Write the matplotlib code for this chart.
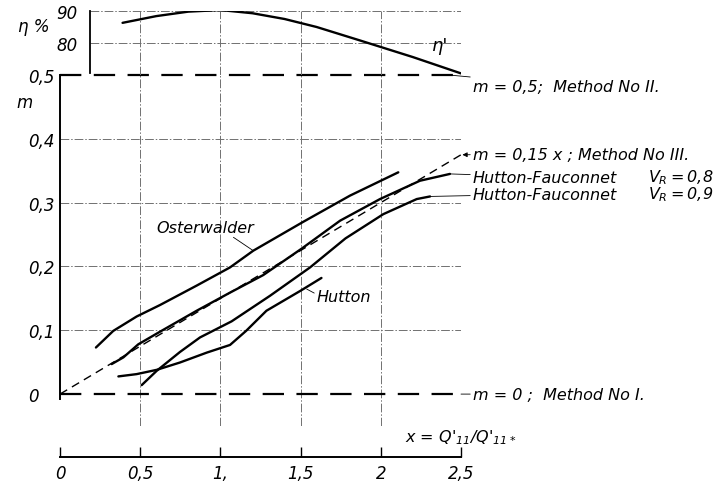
import matplotlib
matplotlib.use("Agg")
import matplotlib.pyplot as plt

# ---------------- data ----------------
eta_x = [0.39, 0.6, 0.8, 1.0, 1.2, 1.4, 1.6, 1.87, 2.2, 2.5]
eta_y = [86.3, 88.4, 89.8, 90.3, 89.3, 87.5, 85.0, 80.8, 75.6, 70.5]

osterwalder_x = [0.224, 0.332, 0.478, 0.623, 0.852, 1.06, 1.205, 1.517, 1.808, 2.109]
osterwalder_m = [0.073, 0.099, 0.1216, 0.1395, 0.170, 0.1985, 0.2247, 0.270, 0.311, 0.3475]

hf08_x = [0.322, 0.395, 0.488, 0.623, 0.852, 1.06, 1.267, 1.507, 1.746, 1.995, 2.244, 2.431]
hf08_m = [0.047, 0.0575, 0.078, 0.0977, 0.1306, 0.159, 0.1865, 0.228, 0.2717, 0.3056, 0.3343, 0.345]

hf09_x = [0.509, 0.603, 0.748, 0.873, 1.07, 1.309, 1.559, 1.78, 2.016, 2.224, 2.307]
hf09_m = [0.014, 0.0365, 0.066, 0.0888, 0.114, 0.154, 0.1985, 0.244, 0.282, 0.3056, 0.3097]

hutton_x = [0.364, 0.478, 0.603, 0.748, 0.915, 1.06, 1.16, 1.287, 1.5, 1.63]
hutton_m = [0.0277, 0.0313, 0.038, 0.0495, 0.065, 0.077, 0.099, 0.1306, 0.162, 0.182]

method3_slope = 0.15
method3_x = [0.0, 2.5]
method2_m = 0.5
method1_m = 0.0

x_ticks = [0, 0.5, 1.0, 1.5, 2.0, 2.5]
x_ticklabels = ["0", "0,5", "1,", "1,5", "2", "2,5"]
m_ticks = [0, 0.1, 0.2, 0.3, 0.4, 0.5]
m_ticklabels = ["0", "0,1", "0,2", "0,3", "0,4", "0,5"]
eta_ticks = [80, 90]
eta_ticklabels = ["80", "90"]

# ---------------- style ----------------
plt.rcParams['font.family'] = ['DejaVu Sans']
plt.rcParams['font.style'] = 'italic'
plt.rcParams['mathtext.fontset'] = 'custom'
plt.rcParams['mathtext.it'] = 'DejaVu Sans:italic'
plt.rcParams['mathtext.rm'] = 'DejaVu Sans:italic'
plt.rcParams['mathtext.default'] = 'it'

W, H = 714, 485
fig = plt.figure(figsize=(W / 100, H / 100), dpi=100)

def fx(px):
    return px / W

def fy(py):
    return (H - py) / H

X0, X1 = 60, 461
grid_kw = dict(color='#707070', lw=0.7, ls=(0, (9, 2, 1.5, 2)))
curve_kw = dict(color='black', lw=1.7, solid_capstyle='round')
method_kw = dict(colors='black', linewidths=1.6, linestyles=[(0, (9.6, 5.6))], zorder=6,
                 clip_on=False)
fs = 11.5

# main axes (m)
ax = fig.add_axes([fx(X0), fy(427), fx(X1) - fx(X0), fy(76) - fy(427)])
ax.set_xlim(0, 2.5)
ax.set_ylim(-0.05, 0.5)
for s in ['top', 'right', 'bottom']:
    ax.spines[s].set_visible(False)
ax.spines['left'].set_bounds(-0.008, 0.5)
ax.spines['left'].set_linewidth(1.4)
ax.set_xticks([])
ax.set_yticks(m_ticks)
ax.set_yticklabels(m_ticklabels, fontsize=12)
ax.tick_params(axis='y', length=0, pad=23)
for lab in ax.get_yticklabels():
    lab.set_horizontalalignment('left')
ax.patch.set_alpha(0)

for t in m_ticks[1:-1]:
    ax.axhline(t, **grid_kw)
for t in x_ticks[1:]:
    ax.axvline(t, **grid_kw)

# methods
ax.hlines([method2_m, method1_m], 0, 2.5, **method_kw)
ax.plot(method3_x, [method3_slope * v for v in method3_x], color='black', lw=1.0,
        ls=(0, (6, 4)), clip_on=False)

# curves
ax.plot(osterwalder_x, osterwalder_m, **curve_kw)
ax.plot(hf08_x, hf08_m, **curve_kw)
ax.plot(hf09_x, hf09_m, **curve_kw)
ax.plot(hutton_x, hutton_m, **curve_kw)

# labels
def dx(px):
    return (px - X0) / 160.4

def dm(py):
    return (395 - py) / 638.0

lx = dx(473)
leader = dict(arrowstyle='-', lw=0.6, color='black', shrinkA=0, shrinkB=0)
ax.annotate("m = 0,5;  Method No II.", xy=(dx(449), 0.5), xytext=(lx, dm(87)),
            fontsize=fs, va='center', ha='left', arrowprops=leader, annotation_clip=False)
ax.annotate("m = 0,15 x ; Method No III.", xy=(2.5, 0.375), xytext=(lx, dm(155)),
            fontsize=fs, va='center', ha='left', annotation_clip=False,
            arrowprops=dict(arrowstyle='-|>', lw=0.6, color='black', shrinkA=0, shrinkB=1,
                            mutation_scale=7))
ax.annotate("Hutton-Fauconnet", xy=(hf08_x[-1], hf08_m[-1]), xytext=(lx, dm(178)),
            fontsize=fs, va='center', ha='left', arrowprops=leader, annotation_clip=False)
ax.text(dx(648), dm(178), r"$V_R = 0{,}8$", fontsize=fs, va='center', ha='left', clip_on=False)
ax.annotate("Hutton-Fauconnet", xy=(hf09_x[-1], hf09_m[-1]), xytext=(lx, dm(195)),
            fontsize=fs, va='center', ha='left', arrowprops=leader, annotation_clip=False)
ax.text(dx(648), dm(195), r"$V_R = 0{,}9$", fontsize=fs, va='center', ha='left', clip_on=False)
ax.annotate("m = 0 ;  Method No I.", xy=(2.5, 0.0), xytext=(lx, dm(395)),
            fontsize=fs, va='center', ha='left', arrowprops=leader, annotation_clip=False)

ax.annotate("Osterwalder", xy=(1.205, 0.2247), xytext=(dx(156), dm(228)),
            fontsize=fs, va='center', ha='left', annotation_clip=False,
            arrowprops=dict(arrowstyle='-', lw=0.6, color='black', shrinkA=0, shrinkB=0,
                            relpos=(0.75, 0)))
ax.annotate("Hutton", xy=(1.538, 0.1646), xytext=(dx(317), dm(297)),
            fontsize=fs, va='center', ha='left', annotation_clip=False,
            arrowprops=dict(arrowstyle='-', lw=0.6, color='black', shrinkA=0, shrinkB=0,
                            relpos=(0, 0.6)))

ax.text(dx(16), dm(103), "m", fontsize=12, ha='left', va='center', clip_on=False)
ax.text(dx(405), dm(438), "x = Q'$_{11}$/Q'$_{11*}$", fontsize=11.5, ha='left', va='center',
        clip_on=False)

# eta axes
axe = fig.add_axes([fx(X0), fy(76), fx(X1) - fx(X0), fy(12) - fy(76)])
axe.set_xlim(0, 2.5)
axe.set_ylim(70, 90)
for s in ['top', 'right', 'bottom']:
    axe.spines[s].set_visible(False)
spx = dx(90)
axe.spines['left'].set_position(('data', spx))
axe.spines['left'].set_bounds(70.6, 90)
axe.spines['left'].set_linewidth(1.3)
axe.set_xticks([])
axe.set_yticks(eta_ticks)
axe.set_yticklabels(eta_ticklabels, fontsize=12)
axe.tick_params(axis='y', length=0, pad=9)
axe.patch.set_alpha(0)
for t in eta_ticks:
    axe.plot([spx, 2.5], [t, t], **grid_kw)
for t in x_ticks[1:]:
    axe.axvline(t, **grid_kw)
axe.plot(eta_x, eta_y, **curve_kw)
axe.text(dx(440), 79.3, "η'", fontsize=13, ha='center', va='center')
axe.text(dx(18), 85.2, "η %", fontsize=12, ha='left', va='center', clip_on=False)

# bottom x axis
axb = fig.add_axes([fx(X0), fy(458), fx(X1) - fx(X0), fy(427) - fy(458)])
axb.set_xlim(0, 2.5)
axb.set_ylim(0, 1)
for s in ['top', 'right', 'left']:
    axb.spines[s].set_visible(False)
axb.spines['bottom'].set_linewidth(1.4)
axb.set_yticks([])
axb.set_xticks(x_ticks)
axb.set_xticklabels(x_ticklabels, fontsize=12)
axb.tick_params(axis='x', direction='in', length=7, width=1.0, pad=5)
axb.patch.set_alpha(0)
axb.axvline(2.5, **grid_kw)

fig.savefig("out.png", dpi=100)
